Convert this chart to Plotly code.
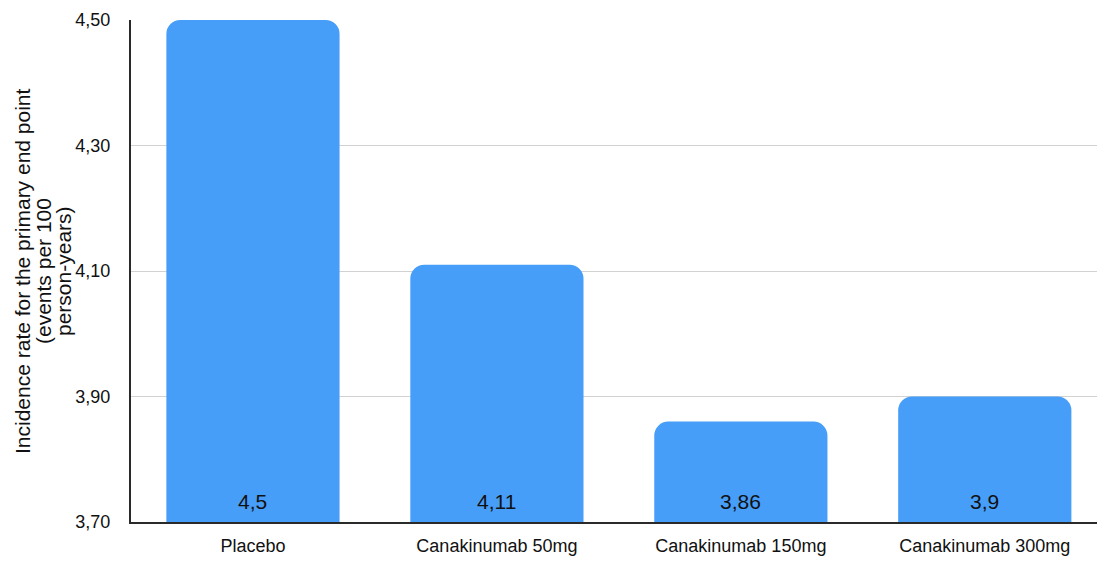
import plotly.graph_objects as go

categories = ["Placebo", "Canakinumab 50mg", "Canakinumab 150mg", "Canakinumab 300mg"]
incidence = [4.5, 4.11, 3.86, 3.9]
y_ticks = [3.7, 3.9, 4.1, 4.3, 4.5]
y_title_lines = [
    "Incidence rate for the primary end point",
    "(events per 100",
    "person-years)",
]

font_family = "Liberation Sans, Arial, Helvetica, sans-serif"
ink = "#111111"

W, H = 1097, 563
L, R, T, B = 131, 0, 20, 41
plot_w = W - L - R
plot_h = H - T - B

fig = go.Figure(
    go.Bar(
        x=categories,
        y=incidence,
        marker=dict(color="#479ef8", line=dict(width=0)),
        width=0.71,
        hoverinfo="x+y",
    )
)

# value labels sitting just above the axis floor inside each bar
for cat, val in zip(categories, incidence):
    fig.add_annotation(
        x=cat,
        y=3.7,
        xref="x",
        yref="y",
        text=f"{val:g}".replace(".", ","),
        showarrow=False,
        yanchor="bottom",
        yshift=7,
        font=dict(family=font_family, size=21, color=ink),
    )

# three-line rotated y-axis title with tight line spacing
title_x_px = [22, 43, 63]
for line, px in zip(y_title_lines, title_x_px):
    fig.add_annotation(
        x=(px - L) / plot_w,
        y=0.5,
        xref="paper",
        yref="paper",
        text=line,
        textangle=-90,
        showarrow=False,
        xanchor="center",
        yanchor="middle",
        font=dict(family=font_family, size=21, color=ink),
    )

fig.update_layout(
    width=W,
    height=H,
    margin=dict(l=L, r=R, t=T, b=B),
    paper_bgcolor="white",
    plot_bgcolor="white",
    separators=",.",
    barcornerradius=14,
    showlegend=False,
    xaxis=dict(
        range=[-0.5, 3.46],
        showgrid=False,
        showline=True,
        linecolor="#2a2a2a",
        linewidth=2,
        ticks="",
        ticklabelstandoff=6,
        tickfont=dict(family=font_family, size=18, color=ink),
    ),
    yaxis=dict(
        range=[3.7, 4.5],
        tickvals=y_ticks,
        tickformat=".2f",
        showgrid=True,
        gridcolor="#d2d2d2",
        gridwidth=1,
        showline=True,
        linecolor="#2a2a2a",
        linewidth=2,
        zeroline=False,
        ticks="",
        ticklabelstandoff=15,
        tickfont=dict(family=font_family, size=18, color=ink),
    ),
)

fig.write_html("out.html")
